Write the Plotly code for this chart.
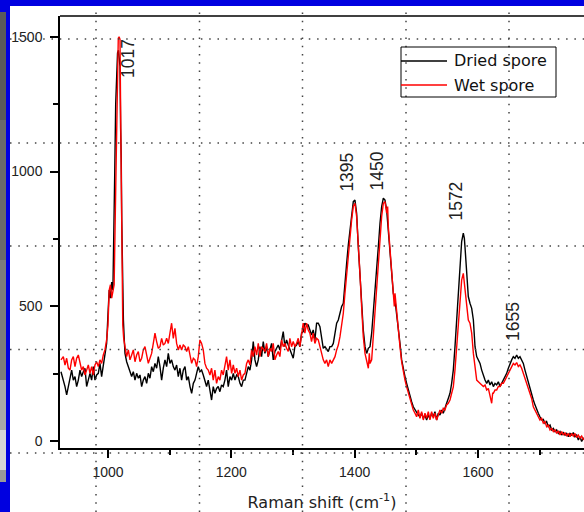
import plotly.graph_objects as go

# ---- spectra (Raman shift in cm^-1, intensity in counts) ----
dried_shift = [
    923.8, 927.6, 930.3, 933.0, 935.7, 938.4, 941.1, 943.8, 946.5, 949.2, 951.9, 954.6, 957.3, 960.0,
    962.7, 965.4, 968.1, 970.8, 973.5, 976.2, 978.9, 981.6, 984.3, 987.0, 989.7, 992.4, 995.1, 997.8,
    1000.0, 1002.0, 1004.0, 1006.0, 1008.0, 1009.5, 1011.0, 1012.5, 1014.0, 1015.5, 1017.0, 1018.5,
    1019.5, 1020.5, 1021.5, 1022.3, 1023.0, 1024.0, 1025.0, 1026.3, 1027.6,
    1030.3, 1033.0, 1035.7, 1038.4, 1041.1, 1043.8, 1046.5, 1049.2, 1051.9, 1054.6, 1057.3, 1060.0,
    1062.7, 1065.4, 1068.1, 1070.8, 1073.5, 1076.2, 1078.9, 1081.6, 1084.3, 1087.0, 1089.7, 1092.4,
    1095.1, 1097.8, 1100.5, 1103.2, 1105.9, 1108.6, 1111.3, 1114.0, 1116.7, 1119.4, 1122.1, 1124.9,
    1127.6, 1130.3, 1133.0, 1135.7, 1138.4, 1141.1,
    1143.7, 1146.4, 1149.1, 1151.8, 1154.5, 1157.2, 1159.9, 1162.6, 1165.3, 1168.0, 1170.7, 1173.4,
    1176.1, 1178.8, 1181.5, 1184.2, 1186.9, 1189.6, 1192.3, 1195.0, 1197.8, 1200.5, 1203.2, 1205.9,
    1208.6, 1211.3, 1214.0, 1216.7, 1219.4, 1222.1, 1224.8, 1227.5, 1230.2, 1232.9, 1235.6, 1238.3,
    1241.0, 1243.7, 1246.4, 1249.1, 1251.8, 1254.5, 1257.2, 1259.9, 1262.6, 1265.3, 1268.0, 1270.7,
    1273.4, 1276.1, 1278.8, 1281.5, 1284.2, 1286.9, 1289.6, 1292.3, 1295.0, 1297.7, 1300.4, 1303.1,
    1305.8, 1308.5, 1311.2, 1313.9, 1316.6, 1319.3, 1322.0, 1324.7, 1327.4, 1330.1, 1332.8, 1335.5,
    1338.3, 1341.0, 1343.7, 1346.4, 1349.1, 1351.8, 1354.5, 1357.2, 1359.9,
    1362.7, 1365.4, 1368.1, 1370.8, 1373.5, 1376.2, 1378.9, 1381.6, 1384.3, 1387.0, 1389.7, 1392.4,
    1395.1, 1397.8, 1400.5, 1403.2, 1405.9, 1408.6, 1411.3, 1414.0, 1416.8, 1419.5, 1422.2, 1424.9,
    1427.6, 1430.3, 1433.0, 1435.7, 1438.4, 1441.1, 1443.8, 1446.5, 1449.2, 1451.9, 1454.6, 1457.3,
    1460.0, 1462.7, 1465.4, 1468.1, 1470.8, 1473.5, 1476.2, 1478.9, 1481.6, 1484.3, 1487.0, 1489.7,
    1492.4, 1495.1, 1497.8, 1500.5, 1503.2, 1505.9, 1508.6, 1511.3, 1514.0, 1516.7, 1519.4, 1522.1,
    1524.8, 1527.5, 1530.2, 1532.9, 1535.6, 1538.3, 1541.0, 1543.7, 1546.4, 1549.1, 1551.8, 1554.6,
    1557.3, 1560.0, 1562.7, 1565.4, 1568.1, 1570.8, 1573.5,
    1576.2, 1577.9, 1578.9, 1581.6, 1584.3, 1587.0, 1589.8, 1592.5, 1595.2, 1597.9, 1600.6, 1603.3,
    1606.0, 1608.7, 1611.4, 1614.1, 1616.8, 1619.5, 1622.2, 1624.9, 1627.6, 1630.3, 1633.0, 1635.7,
    1638.4, 1641.1, 1643.8, 1646.5, 1649.2, 1651.9, 1654.6, 1657.3, 1660.0, 1662.7, 1665.4, 1668.1,
    1670.8, 1673.5, 1676.2, 1678.9, 1681.6, 1684.3, 1687.0, 1689.7, 1692.4, 1695.1, 1697.8, 1700.5,
    1703.2, 1705.9, 1708.6, 1711.3, 1714.0, 1716.8, 1719.5, 1722.2, 1724.9, 1727.6, 1730.3, 1733.0,
    1735.7, 1738.4, 1741.1, 1743.8, 1746.5, 1749.2, 1751.9, 1754.6, 1757.3, 1760.0, 1762.7, 1765.4,
    1768.1, 1770.8, 1775.0,
]
dried_counts = [
    257, 226, 202, 171, 202, 226, 263, 226, 239, 202, 226, 263, 239, 257,
    270, 202, 233, 251, 226, 276, 226, 245, 251, 288, 239, 276, 325, 362,
    470, 560, 530, 590, 560, 720, 1000, 1250, 1330, 1440, 1450, 1400,
    1390, 1160, 1050, 820, 700, 570, 450, 380, 325,
    294, 276, 251, 239, 257, 226, 251, 233, 245, 202, 226, 239,
    214, 251, 233, 276, 257, 288, 270, 313, 276, 226, 270, 301,
    276, 325, 288, 301, 276, 263, 282, 239, 270, 226, 263, 276,
    226, 239, 202, 177, 214, 226,
    251, 276, 257, 263, 245, 226, 202, 226, 189, 152, 202, 177,
    195, 202, 183, 208, 202, 226, 263, 202, 239, 226, 251, 226,
    245, 239, 214, 202, 226, 226, 251, 276, 263, 301, 369, 301,
    276, 301, 350, 313, 369, 325, 350, 313, 338, 362, 301, 332,
    344, 356, 338, 375, 406, 350, 375, 356, 338, 319, 307, 350,
    356, 369, 350, 400, 406, 437, 431, 431, 412, 393, 412, 375,
    437, 437, 424, 375, 344, 350, 338, 332, 350,
    350, 362, 400, 437, 449, 474, 499, 511, 597, 659, 727, 783,
    845, 888, 894, 845, 721, 610, 511, 412, 350, 325, 344, 350,
    400, 474, 560, 635, 721, 808, 870, 901, 894, 857, 783, 696,
    610, 548, 523, 474, 412, 362, 301, 264, 239, 214, 189, 165,
    146, 127, 115, 103, 96, 90, 103, 84, 96, 78, 96, 84,
    103, 90, 109, 78, 103, 96, 115, 103, 127, 140, 158, 177,
    214, 264, 350, 449, 536, 635, 740,
    771, 752, 721, 610, 536, 511, 492, 449, 350, 313, 301, 288,
    263, 239, 226, 214, 226, 208, 220, 202, 214, 208, 220, 202,
    214, 226, 239, 251, 270, 288, 301, 313, 307, 319, 307, 313,
    301, 288, 263, 239, 220, 202, 177, 152, 134, 115, 103, 90,
    78, 80, 66, 72, 53, 59, 41, 47, 35, 41, 28, 35,
    22, 31, 22, 28, 16, 28, 22, 31, 16, 22, 4, 16,
    -2, 10, 12,
]

wet_shift = [
    923.8, 927.6, 930.3, 933.0, 935.7, 938.4, 941.1, 943.8, 946.5, 949.2, 951.9, 954.6, 957.3, 960.0,
    962.7, 965.4, 968.1, 970.8, 973.5, 976.2, 978.9, 981.6, 984.3, 987.0, 989.7, 992.4, 995.1, 997.8,
    1000.0, 1002.0, 1004.0, 1006.0, 1008.0, 1010.0, 1013.0, 1016.7, 1018.0, 1019.5, 1021.0, 1022.5,
    1024.0, 1025.5, 1027.6,
    1030.3, 1033.0, 1035.7, 1038.4, 1041.1, 1043.8, 1046.5, 1049.2, 1051.9, 1054.6, 1057.3, 1060.0,
    1062.7, 1065.4, 1068.1, 1070.8, 1073.5, 1076.2, 1078.9, 1081.6, 1084.3, 1087.0, 1089.7, 1092.4,
    1095.1, 1097.8, 1100.5, 1103.2, 1105.9, 1108.6, 1111.3, 1114.0, 1116.7, 1119.4, 1122.1, 1124.9,
    1127.6, 1130.3, 1133.0, 1135.7, 1138.4, 1141.1,
    1143.7, 1146.4, 1149.1, 1151.8, 1154.5, 1157.2, 1159.9, 1162.6, 1165.3, 1168.0, 1170.7, 1173.4,
    1176.1, 1178.8, 1181.5, 1184.2, 1186.9, 1189.6, 1192.3, 1195.0, 1197.8, 1200.5, 1203.2, 1205.9,
    1208.6, 1211.3, 1214.0, 1216.7, 1219.4, 1222.1, 1224.8, 1227.5, 1230.2, 1232.9, 1235.6, 1238.3,
    1241.0, 1243.7, 1246.4, 1249.1, 1251.8, 1254.5, 1257.2, 1259.9, 1262.6, 1265.3, 1268.0, 1270.7,
    1273.4, 1276.1, 1278.8, 1281.5, 1284.2, 1286.9, 1289.6, 1292.3, 1295.0, 1297.7, 1300.4, 1303.1,
    1305.8, 1308.5, 1311.2, 1313.9, 1316.6, 1319.3, 1322.0, 1324.7, 1327.4, 1330.1, 1332.8, 1335.5,
    1338.3, 1341.0, 1343.7, 1346.4, 1349.1, 1351.8, 1354.5, 1357.2, 1359.9,
    1362.7, 1365.4, 1368.1, 1370.8, 1373.5, 1376.2, 1378.9, 1381.6, 1384.3, 1387.0, 1389.7, 1392.4,
    1395.1, 1397.8, 1400.5, 1403.2, 1405.9, 1408.6, 1411.3, 1414.0, 1416.8, 1419.5, 1422.2, 1423.8,
    1424.9, 1427.6, 1430.3, 1433.0, 1435.7, 1438.4, 1441.1, 1443.8, 1446.5, 1449.2, 1451.9, 1453.5,
    1454.6, 1457.3, 1460.0, 1462.7, 1464.3, 1465.4, 1468.1, 1470.8, 1473.5, 1476.2, 1478.9, 1481.6,
    1484.3, 1487.0, 1489.7, 1492.4, 1495.1, 1497.8, 1500.5, 1503.2, 1505.9, 1508.6, 1511.3, 1514.0,
    1516.7, 1519.4, 1522.1, 1524.8, 1527.5, 1530.2, 1532.9, 1535.6, 1538.3, 1541.0, 1543.7, 1546.4,
    1549.1, 1551.8, 1554.6, 1557.3, 1560.0, 1562.7, 1565.4, 1568.1, 1570.8, 1573.5,
    1576.2, 1577.9, 1578.9, 1581.6, 1584.3, 1587.0, 1589.8, 1592.5, 1595.2, 1597.9, 1600.6, 1603.3,
    1606.0, 1608.7, 1611.4, 1614.1, 1616.8, 1619.5, 1622.2, 1623.8, 1624.9, 1627.6, 1630.3, 1633.0,
    1635.7, 1638.4, 1641.1, 1643.8, 1646.5, 1649.2, 1651.9, 1654.6, 1657.3, 1660.0, 1662.7, 1665.4,
    1668.1, 1670.8, 1673.5, 1676.2, 1678.9, 1681.6, 1684.3, 1687.0, 1689.7, 1692.4, 1695.1, 1697.8,
    1700.5, 1703.2, 1705.9, 1708.6, 1711.3, 1714.0, 1716.8, 1719.5, 1722.2, 1724.9, 1727.6, 1730.3,
    1733.0, 1735.7, 1738.4, 1741.1, 1743.8, 1746.5, 1749.2, 1751.9, 1754.6, 1757.3, 1760.0, 1762.7,
    1765.4, 1768.1, 1770.8, 1775.0,
]
wet_counts = [
    301, 313, 282, 307, 270, 263, 301, 313, 276, 307, 319, 288, 263, 276,
    245, 263, 282, 251, 276, 245, 282, 294, 276, 301, 288, 319, 338, 375,
    430, 560, 580, 530, 560, 580, 1000, 1495, 1500, 1490, 1100, 700,
    430, 380, 350,
    313, 338, 301, 319, 338, 294, 319, 332, 294, 307, 338, 350,
    313, 288, 307, 325, 362, 400, 369, 344, 350, 381, 356, 362,
    381, 362, 400, 437, 381, 418, 362, 338, 356, 338, 356, 350,
    332, 350, 319, 288, 307, 301,
    276, 313, 375, 362, 338, 288, 270, 263, 245, 270, 226, 263,
    214, 239, 226, 263, 245, 288, 313, 263, 301, 251, 282, 251,
    270, 239, 263, 226, 245, 251, 288, 301, 282, 338, 313, 350,
    319, 362, 313, 350, 338, 332, 362, 313, 344, 332, 362, 301,
    319, 332, 313, 375, 350, 362, 344, 332, 381, 350, 369, 350,
    362, 381, 350, 400, 437, 400, 437, 412, 400, 369, 400, 362,
    381, 375, 350, 325, 301, 288, 301, 276, 301,
    288, 301, 313, 338, 356, 387, 424, 474, 548, 622, 684, 758,
    820, 870, 882, 833, 746, 622, 499, 387, 325, 301, 270, 325,
    288, 301, 387, 486, 585, 672, 758, 833, 882, 888, 845, 870,
    795, 709, 622, 560, 499, 548, 474, 412, 350, 294, 251, 226,
    201, 177, 152, 134, 115, 103, 90, 115, 84, 109, 78, 103,
    84, 109, 78, 109, 84, 103, 78, 96, 115, 103, 121, 115,
    134, 140, 152, 177, 201, 264, 350, 437, 523, 597,
    622, 585, 573, 498, 449, 437, 400, 325, 276, 226, 220, 214,
    208, 202, 208, 189, 195, 164, 140, 177, 177, 189, 189, 202,
    202, 214, 214, 226, 239, 251, 263, 276, 288, 282, 291, 276,
    282, 270, 251, 239, 214, 202, 177, 158, 127, 115, 103, 90,
    78, 84, 66, 72, 53, 59, 41, 47, 35, 41, 28, 38,
    22, 35, 22, 31, 18, 28, 16, 28, 18, 28, 13, 22,
    10, 18, 6, 8,
]

# ---- peak positions labelled above the bands ----
peak_labels = ["1017", "1395", "1450", "1572", "1655"]
peak_label_height = [1421, 998, 1002, 891, 445]
peak_label_xshift = [9.5, -5, -9, -5, 1]

series_names = ["Dried spore", "Wet spore"]
series_colors = ["#000000", "#ff0000"]

x_ticks = [1000, 1200, 1400, 1600]
y_ticks = [0, 500, 1000, 1500]

# ---- page geometry (pixels) ----
FIG_W, FIG_H = 584, 512
M_L, M_R, M_T, M_B = 60, 0, 16, 64
PLOT_W = FIG_W - M_L - M_R
PLOT_H = FIG_H - M_T - M_B


def px_x(px):
    return (px - M_L) / PLOT_W


def px_y(py):
    return (FIG_H - M_B - py) / PLOT_H


fig = go.Figure()
fig.add_trace(go.Scatter(x=dried_shift, y=dried_counts, mode="lines", name=series_names[0],
                         line=dict(color=series_colors[0], width=1.4), showlegend=False))
fig.add_trace(go.Scatter(x=wet_shift, y=wet_counts, mode="lines", name=series_names[1],
                         line=dict(color=series_colors[1], width=1.4), showlegend=False))

tick_font = dict(family="Liberation Sans, Arial, sans-serif", size=14, color="#222222")

fig.update_xaxes(
    range=[922.2, 1771.9], showgrid=False, zeroline=False,
    showline=True, linecolor="#000000", linewidth=1.5,
    ticks="outside", ticklen=8, tickwidth=1.5, tickcolor="#000000",
    tickvals=x_ticks, ticktext=[str(v) for v in x_ticks], tickfont=tick_font,
    ticklabelstandoff=2,
    minor=dict(tickvals=[1100, 1300, 1500, 1700], ticks="outside", ticklen=5,
               tickwidth=1.5, tickcolor="#000000"),
    title=dict(text="Raman shift (cm<sup>-1</sup>)",
               font=dict(family="DejaVu Sans", size=16, color="#222222"), standoff=19),
)
fig.update_yaxes(
    range=[-26, 1577], showgrid=False, zeroline=False,
    showline=True, linecolor="#000000", linewidth=1.5,
    ticks="outside", ticklen=8, tickwidth=1.5, tickcolor="#000000",
    tickvals=y_ticks, ticktext=[str(v) for v in y_ticks], tickfont=tick_font,
    ticklabelstandoff=5,
    minor=dict(tickvals=[250, 750, 1250], ticks="outside", ticklen=5,
               tickwidth=1.5, tickcolor="#000000"),
)

shapes = []
# frame top line
shapes.append(dict(type="line", xref="paper", yref="paper", x0=0, x1=1, y0=1, y1=1,
                   line=dict(color="#000000", width=1.5)))

# slide border: blue band on top and left, grey strip at far left
blue = "#0000e0"
shapes.append(dict(type="rect", xref="paper", yref="paper", x0=px_x(0), x1=px_x(FIG_W),
                   y0=px_y(6), y1=px_y(0), fillcolor=blue, line=dict(width=0), layer="below"))
shapes.append(dict(type="rect", xref="paper", yref="paper", x0=px_x(0), x1=px_x(10),
                   y0=px_y(FIG_H), y1=px_y(0), fillcolor=blue, line=dict(width=0), layer="below"))
for top, bot, col in [(12, 120, "#5a5a5a"), (120, 260, "#6a6a6a"), (260, 380, "#7c7c7c"),
                      (380, 430, "#a8a8a8"), (430, 470, "#d6d6d6"), (470, 482, "#9a9a9a")]:
    shapes.append(dict(type="rect", xref="paper", yref="paper", x0=px_x(0), x1=px_x(6),
                       y0=px_y(bot), y1=px_y(top), fillcolor=col, line=dict(width=0), layer="below"))

# dotted guide grid across the page
dot = dict(color="#444444", width=1.5, dash="1.5px,6.8px")
for gx in [96, 199.5, 302.5, 406, 509]:
    shapes.append(dict(type="line", xref="paper", yref="paper", x0=px_x(gx), x1=px_x(gx),
                       y0=px_y(FIG_H), y1=px_y(6), line=dot, layer="above"))
for gy in [39, 143, 246, 349.5, 453]:
    shapes.append(dict(type="line", xref="paper", yref="paper", x0=px_x(10), x1=px_x(FIG_W),
                       y0=px_y(gy), y1=px_y(gy), line=dot, layer="above"))

# legend box with line samples
shapes.append(dict(type="rect", xref="paper", yref="paper", x0=px_x(401), x1=px_x(556),
                   y0=px_y(97), y1=px_y(47), fillcolor="rgba(255,255,255,0)",
                   line=dict(color="#000000", width=1)))
legend_rows = [61, 85]
annotations = []
for row_y, name, col in zip(legend_rows, series_names, series_colors):
    shapes.append(dict(type="line", xref="paper", yref="paper", x0=px_x(401), x1=px_x(447),
                       y0=px_y(row_y), y1=px_y(row_y), line=dict(color=col, width=1.4)))
    annotations.append(dict(xref="paper", yref="paper", x=px_x(452), y=px_y(row_y),
                            text=name, showarrow=False, xanchor="left", yanchor="middle",
                            font=dict(family="DejaVu Sans", size=16, color="#111111")))

# peak wavenumber labels
for lab, h, dx in zip(peak_labels, peak_label_height, peak_label_xshift):
    annotations.append(dict(x=float(lab), y=h, xref="x", yref="y", text=lab, showarrow=False,
                            textangle=-90, xanchor="center", yanchor="middle", xshift=dx,
                            font=dict(family="Liberation Sans, Arial, sans-serif", size=17.5,
                                      color="#222222")))

fig.update_layout(
    width=FIG_W, height=FIG_H,
    margin=dict(l=M_L, r=M_R, t=M_T, b=M_B, pad=0),
    paper_bgcolor="#ffffff", plot_bgcolor="#ffffff",
    shapes=shapes, annotations=annotations, showlegend=False,
)

fig.write_html("out.html")
